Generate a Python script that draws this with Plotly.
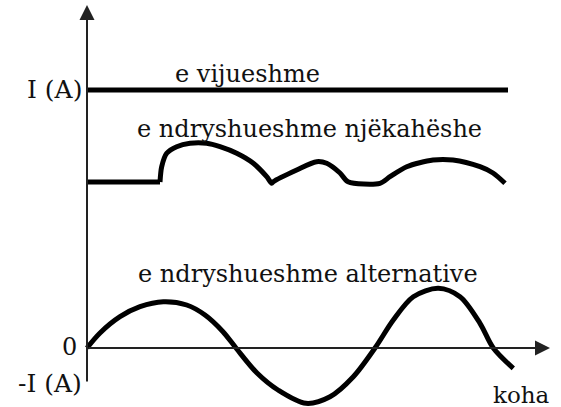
import plotly.graph_objects as go

# Time axis (t) and current (I) share one unit; t = 0 at the origin, I = 0 on the time axis.
I_LEVEL = 258            # value marked "I (A)"
I_NEG = -35              # lower end of the current axis, "-I (A)"
T_AXIS_END = 463         # arrow tip of the time axis
I_AXIS_END = 343         # arrow tip of the current axis

# Direct current: constant value
dc_t = [0, 421]
dc_i = [I_LEVEL, I_LEVEL]

# Varying unidirectional current: flat start, then a wavy positive signal
var_flat_t = [0, 73]
var_flat_i = [166, 166]
var_t = [73, 74.7, 79.7, 89.7, 103, 119.7, 133, 149.7, 166.3, 179.7, 184.7,
         186.3, 209.7, 229.7, 239.7, 253, 261, 293, 303, 319.7, 346, 366, 393, 406, 418]
var_i = [166, 181.3, 194.7, 201.3, 204.7, 204.7, 201.3, 194.7, 184.7, 171.3, 164.7,
         166.3, 178, 186.3, 184.7, 175, 166.3, 164.7, 171.3, 181.3, 188, 188, 181.3, 175, 164.7]

# Alternating current
ac_t = [0, 13, 33, 53, 76.3, 99.7, 118, 136, 149, 170, 191, 219, 243, 266.3,
        288, 306.3, 326.3, 351.3, 373, 393, 406.3, 426.3]
ac_i = [0, 15, 31.3, 41.3, 46.3, 43, 33, 16.3, 0, -25, -42, -55.3, -48.7, -28.7,
        0, 28, 51.3, 59.7, 51.3, 24.7, 0, -20.3]

labels = {
    "dc": "e vijueshme",
    "var": "e ndryshueshme njëkahëshe",
    "ac": "e ndryshueshme alternative",
    "time": "koha",
    "zero": "0",
    "pos": "I (A)",
    "neg": "-I (A)",
}

FONT = dict(family="DejaVu Serif, Liberation Serif, serif", size=24, color="#111111")
CURVE = dict(color="black", width=5)

fig = go.Figure()
fig.add_trace(go.Scatter(x=dc_t, y=dc_i, mode="lines", line=CURVE))
fig.add_trace(go.Scatter(x=var_flat_t, y=var_flat_i, mode="lines", line=CURVE))
fig.add_trace(go.Scatter(x=var_t, y=var_i, mode="lines",
                         line=dict(CURVE, shape="spline", smoothing=0.8)))
fig.add_trace(go.Scatter(x=ac_t, y=ac_i, mode="lines",
                         line=dict(CURVE, shape="spline", smoothing=0.9)))

# Axes drawn as arrows
axis_arrow = dict(showarrow=True, arrowhead=2, arrowsize=1.5, arrowwidth=2,
                  arrowcolor="#222222", axref="x", ayref="y", text="")
fig.add_annotation(x=T_AXIS_END, y=0, ax=0, ay=0, **axis_arrow)
fig.add_annotation(x=0, y=I_AXIS_END, ax=0, ay=I_NEG, **axis_arrow)

def label(text, x, y, xanchor="left", size=24):
    fig.add_annotation(x=x, y=y, text=text, showarrow=False, xanchor=xanchor,
                       yanchor="middle", font=dict(FONT, size=size))

label(labels["dc"], 86, 274)
label(labels["var"], 48, 219)
label(labels["ac"], 49, 74)
label(labels["time"], 465, -47, xanchor="right", size=23)
label(labels["zero"], -8, 1, xanchor="right")
label(labels["pos"], -3, 259, xanchor="right", size=25)
label(labels["neg"], -3, -35, xanchor="right", size=25)

fig.update_xaxes(visible=False, range=[-87, 474])
fig.update_yaxes(visible=False, range=[-59, 348])
fig.update_layout(width=561, height=407, margin=dict(l=0, r=0, t=0, b=0),
                  paper_bgcolor="white", plot_bgcolor="white", showlegend=False)

fig.write_html("out.html")
